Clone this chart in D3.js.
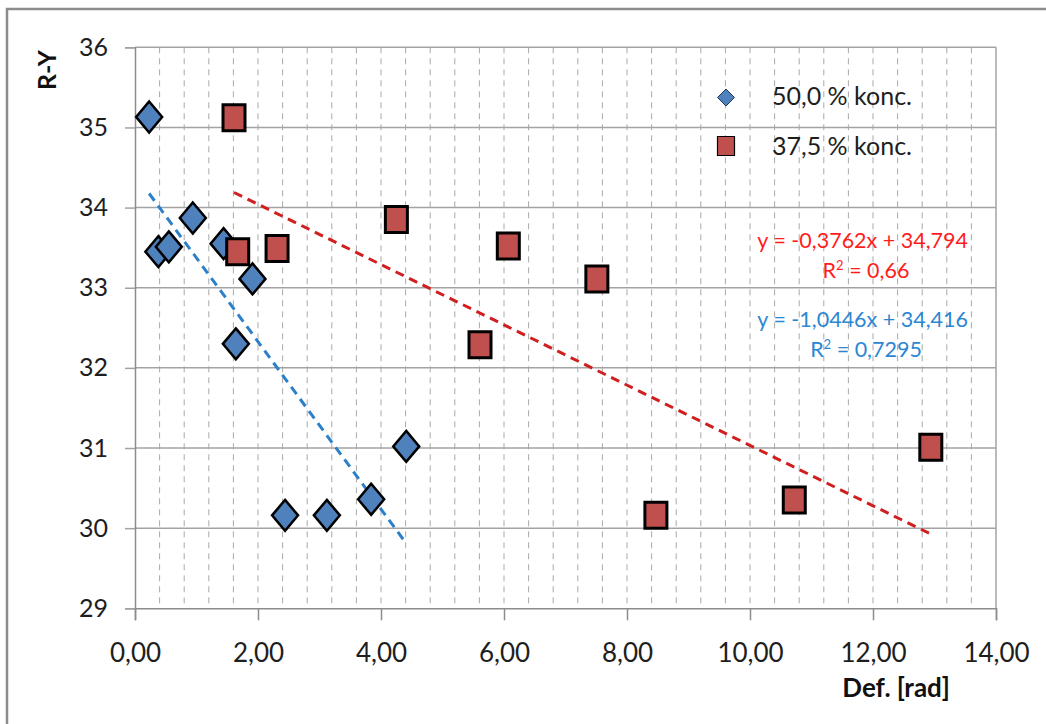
<!DOCTYPE html>
<html>
<head>
<meta charset="utf-8">
<script src="https://cdn.jsdelivr.net/npm/d3@7"></script>
<style>
  html, body { margin: 0; padding: 0; background: #fff; }
  svg { display: block; font-family: Lato, "Open Sans", sans-serif; }
</style>
</head>
<body>
<svg id="chart" width="1046" height="724"></svg>
<script>
// Series: 50,0 % concentration (diamonds)
const conc50X = [0.23, 0.38, 0.55, 0.94, 1.44, 1.91, 1.64, 2.44, 3.12, 3.84, 4.41];
const conc50Y = [35.13, 33.45, 33.51, 33.87, 33.55, 33.11, 32.30, 30.16, 30.16, 30.36, 31.02];
// Series: 37,5 % concentration (squares)
const conc375X = [1.61, 1.67, 2.31, 4.25, 6.07, 7.51, 5.61, 8.47, 10.72, 12.94];
const conc375Y = [35.12, 33.45, 33.49, 33.85, 33.52, 33.11, 32.29, 30.16, 30.35, 31.01];

// Linear trend lines (slope, intercept, R²)
const trend50 = { slope: -1.0446, intercept: 34.416, r2: "0,7295" };
const trend375 = { slope: -0.3762, intercept: 34.794, r2: "0,66" };

const seriesNames = ["50,0 % konc.", "37,5 % konc."];
const xTicks = [0, 2, 4, 6, 8, 10, 12, 14];
const yTicks = [29, 30, 31, 32, 33, 34, 35, 36];
const xTitle = "Def. [rad]";
const yTitle = "R-Y";

const svg = d3.select("#chart");
const locale = d3.formatLocale({ decimal: ",", thousands: ".", grouping: [3], currency: ["", ""], minus: "-" });
const fmtX = locale.format(".2f");
const fmtCoef = v => locale.format(",")(v);

const plotL = 135, plotR = 996, plotT = 47.3, plotB = 608.3;
const x = d3.scaleLinear().domain([0, 14]).range([plotL, plotR]);
const y = d3.scaleLinear().domain([29, 36]).range([plotB, plotT]);

// Outer chart frame
svg.append("rect")
  .attr("x", 7).attr("y", 9).attr("width", 1100).attr("height", 800)
  .attr("fill", "none").attr("stroke", "#8c8c8c").attr("stroke-width", 2.5);

// Minor vertical gridlines, dashed
const minorX = d3.range(1, 35).map(i => +(i * 0.4).toFixed(1));
svg.append("g").selectAll("line").data(minorX).join("line")
  .attr("x1", d => x(d)).attr("x2", d => x(d))
  .attr("y1", plotT).attr("y2", plotB)
  .attr("stroke", "#a9a9a9").attr("stroke-width", 1)
  .attr("stroke-dasharray", "6,5");

// Horizontal gridlines
svg.append("g").selectAll("line").data(yTicks.filter(d => d > 29)).join("line")
  .attr("x1", plotL).attr("x2", plotR)
  .attr("y1", d => y(d)).attr("y2", d => y(d))
  .attr("stroke", "#a3a3a3").attr("stroke-width", 1.5);

// Right plot border
svg.append("line")
  .attr("x1", plotR).attr("x2", plotR).attr("y1", plotT).attr("y2", plotB)
  .attr("stroke", "#a3a3a3").attr("stroke-width", 1.5);

// Y axis
const yAxis = svg.append("g")
  .attr("transform", `translate(${plotL},0)`)
  .call(d3.axisLeft(y).tickValues(yTicks).tickSize(10).tickPadding(17).tickFormat(d3.format("d")));
yAxis.select(".domain").attr("stroke", "#8c8c8c").attr("stroke-width", 1.5);
yAxis.selectAll(".tick line").attr("stroke", "#a3a3a3").attr("stroke-width", 1.5);
yAxis.selectAll("text").attr("font-size", 25).attr("fill", "#1e1e1e")
  .attr("font-family", "Lato, sans-serif");

// X axis
const xAxis = svg.append("g")
  .attr("transform", `translate(0,${plotB})`)
  .call(d3.axisBottom(x).tickValues(xTicks).tickSize(12).tickPadding(23).tickFormat(fmtX));
xAxis.select(".domain").attr("stroke", "#8c8c8c").attr("stroke-width", 1.5);
xAxis.selectAll(".tick line").attr("stroke", "#8c8c8c").attr("stroke-width", 1.5);
xAxis.selectAll("text").attr("font-size", 26).attr("fill", "#1e1e1e")
  .attr("font-family", "Lato, sans-serif");

// Axis titles
svg.append("text")
  .attr("x", 950).attr("y", 697)
  .attr("text-anchor", "end")
  .attr("font-size", 26).attr("font-weight", "bold").attr("fill", "#111")
  .text(xTitle);
svg.append("text")
  .attr("transform", "translate(56,70) rotate(-90)")
  .attr("text-anchor", "middle")
  .attr("font-size", 25).attr("font-weight", "bold").attr("fill", "#111")
  .text(yTitle);

// Trend lines across each series' x extent
function trendLine(xs, t, color) {
  const [x0, x1] = d3.extent(xs);
  svg.append("line")
    .attr("x1", x(x0)).attr("y1", y(t.slope * x0 + t.intercept))
    .attr("x2", x(x1)).attr("y2", y(t.slope * x1 + t.intercept))
    .attr("stroke", color).attr("stroke-width", 3)
    .attr("stroke-dasharray", "9,6");
}
trendLine(conc50X, trend50, "#2b80c9");
trendLine(conc375X, trend375, "#d01f1f");

// Marker shapes
const diamond = (w, h) => `M0,${-h}L${w},0L0,${h}L${-w},0Z`;
const square = (w, h) => `M${-w},${-h}H${w}V${h}H${-w}Z`;

// Diamonds (50,0 %)
svg.append("g").selectAll("path")
  .data(conc50X.map((d, i) => [d, conc50Y[i]]))
  .join("path")
  .attr("transform", d => `translate(${x(d[0])},${y(d[1])})`)
  .attr("d", diamond(13, 15.5))
  .attr("fill", "#4f81bd").attr("stroke", "#000").attr("stroke-width", 2.5)
  .attr("stroke-linejoin", "miter");

// Squares (37,5 %)
svg.append("g").selectAll("path")
  .data(conc375X.map((d, i) => [d, conc375Y[i]]))
  .join("path")
  .attr("transform", d => `translate(${x(d[0])},${y(d[1])})`)
  .attr("d", square(11, 13))
  .attr("fill", "#c0504d").attr("stroke", "#000").attr("stroke-width", 3);

// Legend
const legend = svg.append("g");
legend.append("path")
  .attr("transform", "translate(726,97.5)")
  .attr("d", diamond(8.5, 8.5))
  .attr("fill", "#4f81bd").attr("stroke", "#1f3a5f").attr("stroke-width", 1);
legend.append("path")
  .attr("transform", "translate(726,146)")
  .attr("d", square(8.5, 9.5))
  .attr("fill", "#c0504d").attr("stroke", "#000").attr("stroke-width", 1.2);
legend.selectAll("text.lbl").data(seriesNames).join("text")
  .attr("class", "lbl")
  .attr("x", 772).attr("y", (d, i) => 105 + i * 50)
  .attr("font-size", 25).attr("fill", "#1e1e1e")
  .text(d => d);

// Trend line equations
function equation(t, color, yBase) {
  const sign = t.intercept >= 0 ? "+" : "-";
  const g = svg.append("g").attr("fill", color).attr("font-size", 21.5);
  g.append("text").attr("x", 968).attr("y", yBase).attr("text-anchor", "end")
    .text(`y = ${fmtCoef(t.slope)}x ${sign} ${fmtCoef(Math.abs(t.intercept))}`);
  const r = g.append("text").attr("x", 866).attr("y", yBase + 30).attr("text-anchor", "middle");
  r.append("tspan").text("R");
  r.append("tspan").attr("font-size", 13).attr("dy", -8).text("2");
  r.append("tspan").attr("dy", 8).text(` = ${t.r2}`);
}
equation(trend375, "#ff1c1c", 248);
equation(trend50, "#2b86d3", 327);
</script>
</body>
</html>
